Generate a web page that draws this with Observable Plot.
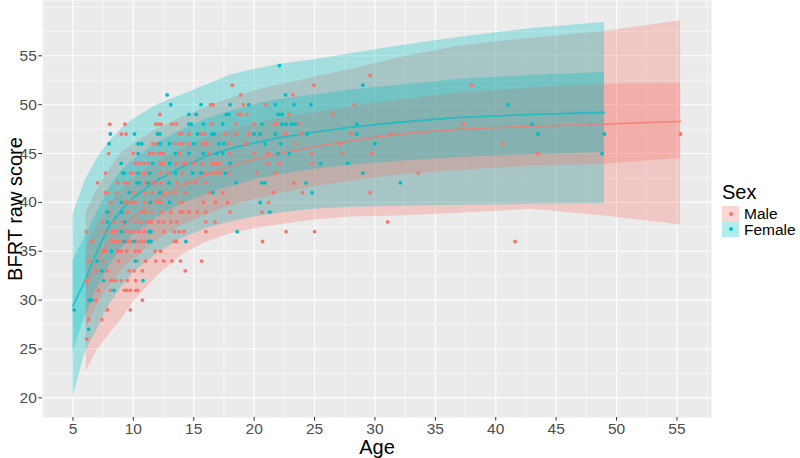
<!DOCTYPE html>
<html><head><meta charset="utf-8">
<script src="https://cdn.jsdelivr.net/npm/d3@7"></script>
<script src="https://cdn.jsdelivr.net/npm/@observablehq/plot@0.6"></script>
<style>
body{margin:0;background:#fff;font-family:"Liberation Sans",Arial,sans-serif;}
#wrap{position:relative;width:800px;height:458px;overflow:hidden;}
#legend{position:absolute;left:722px;top:181px;color:#000;}
#legend .title{font-size:20px;line-height:22px;margin-bottom:3px;}
#legend .row{display:flex;align-items:center;height:15.5px;}
#legend .key{width:17px;height:15.5px;position:relative;margin-right:5px;}
#legend .key span{position:absolute;left:6.5px;top:5.7px;width:4px;height:4px;border-radius:50%;}
#legend .lab{font-size:15.5px;line-height:15px;}
</style></head><body><div id="wrap"></div>
<script>
const sexes = ["Male", "Female"];
const colors = ["#F8766D", "#00BFC4"];
const xTicks = [5, 10, 15, 20, 25, 30, 35, 40, 45, 50, 55];
const yTicks = [20, 25, 30, 35, 40, 45, 50, 55];

// points: [score, [ages...]]
const malePoints = [
  [26, [6.15]],
  [28, [6.3, 7.4]],
  [29, [7.85, 9.75]],
  [30, [6.9, 10.75]],
  [31, [7.1, 8.1, 9.25, 9.45, 9.75, 10.2, 10.35]],
  [32, [6.1, 6.15, 8.1, 8.3, 8.55, 9.0, 9.5, 10.2]],
  [33, [7.0, 7.8, 9.65, 10.05, 10.75, 14.3]],
  [34, [6.35, 7.45, 8.8, 10.3, 11.0, 11.85, 12.5, 13.2, 13.9, 15.65]],
  [35, [7.45, 7.7, 8.7, 9.0, 9.45, 10.15, 10.5, 11.8, 12.26]],
  [36, [6.55, 8.3, 8.55, 8.8, 9.1, 9.5, 9.8, 10.25, 10.6, 10.9, 13.4, 13.55, 20.7, 41.6]],
  [37, [6.1, 7.6, 8.2, 8.55, 9.25, 9.65, 10.0, 10.5, 10.9, 11.45, 12.5, 13.4, 13.8, 14.2, 16.0, 22.65, 25.0]],
  [38, [7.45, 8.4, 9.05, 10.25, 10.6, 11.1, 11.35, 11.5, 12.1, 12.5, 13.1, 13.6, 16.0, 16.75, 31.05]],
  [39, [8.1, 9.5, 10.75, 11.0, 11.5, 12.35, 13.1, 13.9, 14.1, 14.6, 15.3, 16.0, 18.0, 20.65]],
  [40, [8.1, 9.2, 9.4, 9.65, 9.8, 10.0, 10.2, 11.0, 12.0, 12.1, 12.35, 13.8, 14.05, 15.8, 16.8, 17.8, 21.2]],
  [41, [7.7, 7.85, 8.6, 10.0, 11.0, 11.6, 12.5, 13.0, 13.5, 14.3, 16.3, 17.4, 21.6, 24.0, 29.6]],
  [42, [7.04, 8.7, 9.25, 9.5, 10.9, 11.5, 11.9, 12.3, 13.6, 14.4, 15.15, 16.0, 23.3]],
  [43, [7.7, 9.8, 10.05, 10.75, 11.0, 12.26, 12.9, 14.05, 15.9, 16.4, 16.8, 17.2, 17.9, 20.2, 21.75, 33.6]],
  [44, [10.15, 10.5, 10.9, 11.25, 12.3, 12.5, 13.55, 14.1, 14.3, 15.0, 15.7, 16.5, 16.8, 17.1, 21.1, 22.1, 24.8]],
  [45, [7.95, 10.0, 11.35, 11.7, 12.1, 12.3, 12.5, 13.8, 16.25, 18.0, 20.0, 21.1, 24.8, 27.3, 29.7, 43.5]],
  [46, [11.6, 11.9, 13.4, 13.8, 14.1, 14.6, 15.8, 16.1, 17.9, 19.3, 23.5, 27.1, 40.6]],
  [47, [9.0, 9.4, 13.8, 14.0, 14.6, 15.6, 15.9, 17.6, 18.5, 19.6, 22.6, 23.9, 28.0, 31.3, 55.3]],
  [48, [8.05, 9.3, 11.85, 12.07, 12.3, 13.2, 13.55, 16.5, 18.5, 20.0, 21.7, 21.9, 23.7, 37.3]],
  [49, [12.2, 18.7, 18.9, 19.4, 22.9, 26.5]],
  [50, [16.4, 16.6, 19.1, 21.0, 28.3]],
  [51, [18.9, 23.2]],
  [52, [18.2, 24.95, 38.0]],
  [53, [29.6]]
];
const femalePoints = [
  [27, [6.3]],
  [29, [5.1]],
  [30, [6.35, 6.55]],
  [31, [8.4]],
  [32, [7.55, 10.8]],
  [33, [7.4]],
  [34, [7.0, 10.15]],
  [35, [8.2]],
  [36, [9.25, 10.05, 11.25, 11.45, 14.35]],
  [37, [9.0, 11.3, 11.45, 18.6]],
  [38, [7.85, 9.3]],
  [39, [7.85, 9.05, 21.3]],
  [40, [9.0, 11.4, 13.0, 20.5]],
  [41, [9.65, 12.2, 16.6, 24.8]],
  [42, [10.3, 10.5, 11.2, 12.95, 18.5, 20.65, 20.9, 24.3, 32.1]],
  [43, [9.1, 9.25, 10.4, 11.35, 13.5, 14.9, 15.6, 17.6, 29.0]],
  [44, [9.0, 11.6, 13.0, 18.0, 25.5, 27.75]],
  [45, [10.4, 13.5, 14.6, 15.8, 16.9, 17.4, 22.0, 22.9, 48.8]],
  [46, [8.0, 10.4, 10.7, 12.2, 13.0, 15.0, 17.1, 17.5, 20.9, 22.2, 30.0]],
  [47, [8.1, 10.1, 12.0, 12.2, 15.3, 16.5, 16.7, 20.0, 20.5, 21.75, 24.4, 28.5, 43.5, 49.0]],
  [48, [14.6, 14.8, 15.8, 17.4, 20.65, 22.3, 22.65, 23.1, 23.4, 28.5, 43.0]],
  [49, [14.6, 15.2, 17.7, 17.9, 22.0, 22.3]],
  [50, [13.1, 15.6, 18.0, 19.55, 21.75, 23.3, 24.7, 41.0]],
  [51, [12.8, 22.6]],
  [52, [29.0]],
  [54, [22.1]]
];

// centile bands
const maleBandAge = [6.1, 7, 8, 9, 10, 12, 14, 16, 18, 20, 22, 25, 28, 32, 37, 43, 49, 55.3];
const maleLo95 = [22.7, 24.9, 26.5, 28.0, 29.8, 32.5, 34.6, 35.9, 36.8, 37.3, 37.7, 38.2, 38.5, 38.6, 38.9, 39.3, 38.6, 37.7];
const maleLo50 = [27.0, 29.5, 31.5, 33.0, 34.2, 36.2, 37.6, 38.7, 39.6, 40.3, 40.9, 41.6, 42.2, 42.8, 43.3, 43.7, 43.9, 44.5];
const maleMed  = [31.5, 34.0, 36.0, 37.4, 38.5, 40.3, 41.7, 42.8, 43.7, 44.4, 45.0, 45.7, 46.3, 47.0, 47.5, 47.8, 48.0, 48.3];
const maleHi50 = [35.5, 37.8, 39.8, 41.3, 42.5, 44.2, 45.5, 46.6, 47.4, 48.0, 48.6, 49.2, 49.8, 50.5, 51.2, 51.7, 52.1, 52.2];
const maleHi95 = [39.0, 41.3, 43.3, 45.0, 46.0, 47.5, 48.7, 49.7, 50.6, 51.4, 52.0, 52.8, 53.6, 54.8, 56.0, 56.8, 57.5, 58.6];

const femaleBandAge = [5, 6, 7, 8, 9, 10, 12, 14, 16, 18, 20, 22, 25, 28, 32, 37, 43, 49];
const femaleLo95 = [20.0, 24.6, 27.0, 29.5, 31.3, 32.8, 34.8, 36.3, 37.3, 38.0, 38.5, 38.9, 39.3, 39.5, 39.6, 39.7, 39.8, 39.9];
const femaleLo50 = [24.7, 28.3, 31.2, 33.5, 35.3, 36.6, 38.5, 39.8, 40.8, 41.6, 42.3, 42.8, 43.4, 43.8, 44.2, 44.6, 44.9, 45.1];
const femaleMed  = [29.4, 32.0, 35.0, 37.6, 39.2, 40.5, 42.3, 43.6, 44.7, 45.5, 46.1, 46.6, 47.2, 47.7, 48.2, 48.7, 49.0, 49.2];
const femaleHi50 = [34.0, 36.5, 39.0, 41.5, 43.2, 44.4, 46.1, 47.4, 48.5, 49.3, 50.0, 50.5, 51.0, 51.5, 52.0, 52.6, 53.0, 53.3];
const femaleHi95 = [38.8, 42.2, 44.5, 46.2, 47.5, 48.5, 50.0, 51.0, 52.0, 53.0, 53.6, 54.1, 54.6, 55.2, 56.0, 56.9, 57.8, 58.4];

// build tables
const points = [];
[[malePoints, "Male"], [femalePoints, "Female"]].forEach(([rows, sex]) => {
  rows.forEach(([score, ages]) => ages.forEach(a => points.push({age: a, score, sex})));
});
function bandTable(ages, lo95, lo50, med, hi50, hi95, sex) {
  return ages.map((a, i) => ({age: a, lo95: lo95[i], lo50: lo50[i], med: med[i], hi50: hi50[i], hi95: hi95[i], sex}));
}
const bands = [
  ...bandTable(maleBandAge, maleLo95, maleLo50, maleMed, maleHi50, maleHi95, "Male"),
  ...bandTable(femaleBandAge, femaleLo95, femaleLo50, femaleMed, femaleHi50, femaleHi95, "Female")
];
const minorX = [2.5, 7.5, 12.5, 17.5, 22.5, 27.5, 32.5, 37.5, 42.5, 47.5, 52.5, 57.5];
const minorY = [17.5, 22.5, 27.5, 32.5, 37.5, 42.5, 47.5, 52.5, 57.5, 60];

const plot = Plot.plot({
  width: 800, height: 458,
  marginLeft: 42, marginRight: 89, marginTop: 0, marginBottom: 41,
  style: {fontFamily: "Liberation Sans, Arial, sans-serif", background: "transparent"},
  x: {domain: [2.48, 57.86]},
  y: {domain: [17.99, 60.66]},
  color: {domain: sexes, range: colors},
  marks: [
    Plot.frame({fill: "#EBEBEB", stroke: null}),
    Plot.gridX(minorX, {stroke: "#fff", strokeOpacity: 1, strokeWidth: 0.55}),
    Plot.gridY(minorY, {stroke: "#fff", strokeOpacity: 1, strokeWidth: 0.55}),
    Plot.gridX(xTicks, {stroke: "#fff", strokeOpacity: 1, strokeWidth: 1.1}),
    Plot.gridY(yTicks, {stroke: "#fff", strokeOpacity: 1, strokeWidth: 1.1}),
    Plot.areaY(bands, {x: "age", y1: "lo95", y2: "hi95", z: "sex", fill: "sex", fillOpacity: 0.3}),
    Plot.areaY(bands, {x: "age", y1: "lo50", y2: "hi50", z: "sex", fill: "sex", fillOpacity: 0.3}),
    Plot.line(bands, {x: "age", y: "med", z: "sex", stroke: "sex", strokeWidth: 1.8, strokeOpacity: 0.7}),
    Plot.dot(points, {x: "age", y: "score", fill: "sex", r: 1.9, stroke: null}),
    Plot.axisX({ticks: xTicks, tickSize: 3.7, tickPadding: 2, fontSize: 15.5, color: "#4D4D4D", stroke: "#333", label: null}),
    Plot.axisY({ticks: yTicks, tickSize: 3.7, tickPadding: 2, fontSize: 15.5, color: "#4D4D4D", stroke: "#333", label: null}),
    Plot.text(["Age"], {frameAnchor: "bottom", lineAnchor: "middle", textAnchor: "middle", dy: 30, fontSize: 20, fill: "#000"}),
    Plot.text(["BFRT raw score"], {frameAnchor: "left", textAnchor: "middle", lineAnchor: "middle", dx: -27, rotate: -90, fontSize: 20, fill: "#000"})
  ]
});
const wrap = document.getElementById("wrap");
wrap.appendChild(plot);

const legend = document.createElement("div");
legend.id = "legend";
let html = '<div class="title">Sex</div>';
sexes.forEach((s, i) => {
  html += `<div class="row"><div class="key" style="background:${colors[i]}4D"><span style="background:${colors[i]}"></span></div><div class="lab">${s}</div></div>`;
});
legend.innerHTML = html;
wrap.appendChild(legend);
</script>
</body></html>
